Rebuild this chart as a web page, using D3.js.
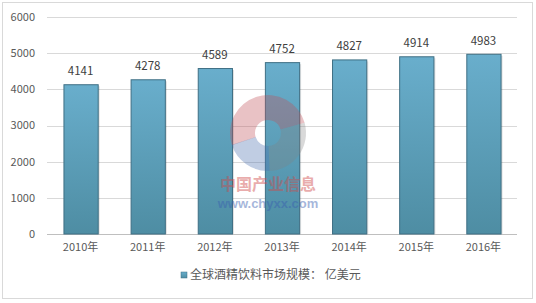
<!DOCTYPE html>
<html>
<head>
<meta charset="utf-8">
<script src="https://cdn.jsdelivr.net/npm/d3@7"></script>
<style>
  body { margin: 0; background: #fff; }
  svg { display: block; font-family: "Microsoft YaHei", "Noto Sans CJK SC", "DejaVu Sans", sans-serif; }
</style>
</head>
<body>
<svg id="chart" width="536" height="303"></svg>
<script>
var years = ["2010年", "2011年", "2012年", "2013年", "2014年", "2015年", "2016年"];
var marketSize = [4141, 4278, 4589, 4752, 4827, 4914, 4983];
var yTicks = [0, 1000, 2000, 3000, 4000, 5000, 6000];
var seriesName = "全球酒精饮料市场规模： 亿美元";

var svg = d3.select("#chart");
var margin = {top: 17, right: 19, bottom: 69, left: 47},
    width = 536 - margin.left - margin.right,
    height = 303 - margin.top - margin.bottom;

// outer frame
svg.append("rect").attr("x", 2.5).attr("y", 2.5).attr("width", 530).attr("height", 296)
    .attr("fill", "#fff").attr("stroke", "#d9d9d9");

var defs = svg.append("defs");
var grad = defs.append("linearGradient").attr("id", "barGrad")
    .attr("x1", 0).attr("y1", 0).attr("x2", 0).attr("y2", 1);
grad.append("stop").attr("offset", "0%").attr("stop-color", "#69aecc");
grad.append("stop").attr("offset", "100%").attr("stop-color", "#4e8da3");

var g = svg.append("g").attr("transform", "translate(" + margin.left + "," + margin.top + ")");

var x = d3.scaleBand().domain(years).range([0, width]).paddingInner(0.49).paddingOuter(0.245);
var y = d3.scaleLinear().domain([0, 6000]).range([height, 0]);

// gridlines
g.selectAll("line.grid").data(yTicks).enter().append("line")
    .attr("class", "grid")
    .attr("x1", 0).attr("x2", width)
    .attr("y1", function(d) { return Math.round(y(d)) + 0.5; })
    .attr("y2", function(d) { return Math.round(y(d)) + 0.5; })
    .attr("stroke", function(d) { return d === 0 ? "#bfbfbf" : "#d9d9d9"; });

// y labels
g.selectAll("text.ytick").data(yTicks).enter().append("text")
    .attr("class", "ytick")
    .attr("x", -12).attr("y", function(d) { return y(d); })
    .attr("dy", "0.35em").attr("text-anchor", "end")
    .attr("font-size", 11).attr("fill", "#595959")
    .text(function(d) { return d; });

// x labels
g.selectAll("text.xtick").data(years).enter().append("text")
    .attr("class", "xtick")
    .attr("x", function(d) { return x(d) + x.bandwidth() / 2; })
    .attr("y", height + 17)
    .attr("text-anchor", "middle")
    .attr("font-size", 11).attr("fill", "#595959")
    .text(function(d) { return d; });

// bar shadows
g.selectAll("rect.shadow").data(marketSize).enter().append("rect")
    .attr("class", "shadow")
    .attr("x", function(d, i) { return x(years[i]) + 2; })
    .attr("y", function(d) { return y(d) + 2; })
    .attr("width", x.bandwidth())
    .attr("height", function(d) { return height - y(d) - 2; })
    .attr("fill", "#000").attr("opacity", 0.12);

// bars
g.selectAll("rect.bar").data(marketSize).enter().append("rect")
    .attr("class", "bar")
    .attr("x", function(d, i) { return x(years[i]) + 0.5; })
    .attr("y", function(d) { return y(d) + 0.5; })
    .attr("width", x.bandwidth())
    .attr("height", function(d) { return height - y(d) - 0.5; })
    .attr("fill", "url(#barGrad)")
    .attr("stroke", "#3f6f84").attr("stroke-width", 1);

// value labels
g.selectAll("text.val").data(marketSize).enter().append("text")
    .attr("class", "val")
    .attr("x", function(d, i) { return x(years[i]) + x.bandwidth() / 2; })
    .attr("y", function(d) { return y(d) - 9; })
    .attr("text-anchor", "middle")
    .attr("font-size", 11.5).attr("fill", "#404040")
    .text(function(d) { return d; });

// watermark
var wm = svg.append("g").attr("transform", "translate(268,133)").attr("pointer-events", "none");
var arc = d3.arc().innerRadius(13).outerRadius(38);
wm.append("path").attr("d", arc({startAngle: -1.9, endAngle: 1.3}))
    .attr("fill", "#c0505a").attr("opacity", 0.35);
wm.append("path").attr("d", arc({startAngle: 1.3, endAngle: 3.1}))
    .attr("fill", "#808080").attr("opacity", 0.3);
wm.append("path").attr("d", arc({startAngle: 3.1, endAngle: 4.4}))
    .attr("fill", "#4a6fb0").attr("opacity", 0.35);
wm.append("text").attr("x", 0).attr("y", 57).attr("text-anchor", "middle")
    .attr("font-size", 16).attr("font-weight", "bold")
    .attr("fill", "#d04a4a").attr("opacity", 0.45).text("中国产业信息");
wm.append("text").attr("x", 0).attr("y", 75).attr("text-anchor", "middle")
    .attr("font-size", 13).attr("font-weight", "bold").attr("font-family", "Arial, Liberation Sans, sans-serif")
    .attr("fill", "#3a5fb0").attr("opacity", 0.45).text("www.chyxx.com");

// legend
var lg = svg.append("g").attr("transform", "translate(181,272)");
lg.append("rect").attr("x", 0).attr("y", 0).attr("width", 6).attr("height", 6)
    .attr("fill", "url(#barGrad)").attr("stroke", "#3f6f84").attr("stroke-width", 0.5);
lg.append("text").attr("x", 9).attr("y", 3).attr("dy", "0.35em")
    .attr("font-size", 12).attr("fill", "#595959").text(seriesName);
</script>
</body>
</html>
